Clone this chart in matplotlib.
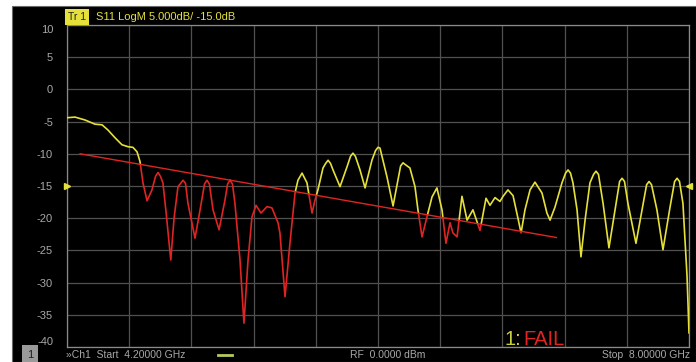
"""
S11 return-loss screen grab, redrawn: LogM trace with a sloped limit line.
Trace turns red where it sits under the limit line.
"""

import matplotlib
matplotlib.use("Agg")
import matplotlib.pyplot as plt
from matplotlib.patches import Polygon, Rectangle

# ---- data ----
freq_ghz = [4.200, 4.249, 4.310, 4.371, 4.414, 4.450, 4.493, 4.536, 4.573, 4.603,
            4.628, 4.646, 4.664, 4.689, 4.719, 4.741, 4.756, 4.771, 4.786, 4.805,
            4.834, 4.854, 4.878, 4.894, 4.909, 4.924, 4.939, 4.982, 5.013, 5.040,
            5.055, 5.070, 5.092, 5.129, 5.165, 5.181, 5.196, 5.211, 5.226, 5.257,
            5.281, 5.306, 5.330, 5.355, 5.385, 5.422, 5.452, 5.489, 5.501, 5.532,
            5.562, 5.593, 5.611, 5.636, 5.666, 5.697, 5.715, 5.733, 5.764, 5.780,
            5.795, 5.810, 5.825, 5.868, 5.911, 5.932, 5.947, 5.962, 5.990, 6.021,
            6.063, 6.085, 6.100, 6.112, 6.155, 6.192, 6.238, 6.253, 6.268, 6.295,
            6.326, 6.344, 6.369, 6.399, 6.430, 6.460, 6.491, 6.515, 6.540, 6.558,
            6.583, 6.613, 6.644, 6.680, 6.723, 6.760, 6.784, 6.815, 6.845, 6.864,
            6.894, 6.925, 6.955, 6.974, 6.998, 7.029, 7.059, 7.102, 7.132, 7.151,
            7.181, 7.224, 7.246, 7.261, 7.276, 7.291, 7.316, 7.340, 7.365, 7.395,
            7.417, 7.432, 7.447, 7.475, 7.511, 7.548, 7.576, 7.591, 7.606, 7.627,
            7.676, 7.713, 7.741, 7.756, 7.771, 7.804, 7.841, 7.884, 7.912, 7.927,
            7.942, 7.963, 7.988, 8.000]
s11_db = [-4.4, -4.3, -4.75, -5.4, -5.5, -6.3, -7.5, -8.6, -8.9, -9.0,
          -9.7, -11.2, -14.5, -17.3, -15.6, -13.5, -12.9, -13.5, -14.5, -19.0,
          -26.5, -20.0, -15.1, -14.6, -14.1, -14.6, -17.7, -23.1, -18.7, -14.7,
          -14.1, -14.7, -18.7, -21.8, -17.2, -14.7, -14.1, -14.7, -17.7, -26.5,
          -36.3, -26.5, -19.8, -18.0, -19.2, -18.2, -18.4, -20.7, -22.3, -32.2,
          -23.9, -16.1, -14.1, -13.0, -14.5, -19.2, -17.2, -15.6, -12.2, -11.5,
          -11.0, -11.5, -12.5, -15.1, -12.0, -10.4, -9.9, -10.4, -12.5, -15.3,
          -11.0, -9.5, -9.0, -9.1, -13.6, -18.1, -11.9, -11.4, -11.7, -12.2,
          -15.1, -18.7, -22.9, -19.8, -16.7, -15.3, -18.7, -23.9, -20.7, -22.3,
          -22.9, -16.6, -20.3, -18.7, -21.9, -16.9, -18.0, -16.8, -17.4, -16.6,
          -15.6, -16.5, -20.0, -22.3, -18.7, -15.6, -14.4, -16.1, -19.2, -20.3,
          -18.3, -14.5, -13.0, -12.5, -13.0, -14.5, -18.7, -26.0, -20.3, -14.5,
          -13.2, -12.7, -13.2, -17.7, -24.6, -18.7, -14.3, -13.8, -14.3, -17.7,
          -23.9, -18.7, -14.8, -14.3, -14.8, -18.7, -24.9, -18.3, -14.3, -13.8,
          -14.3, -17.7, -29.0, -37.8]

limit_ghz = [4.28, 7.19]
limit_db = [-10.0, -23.0]

ytick_vals = [10, 5, 0, -5, -10, -15, -20, -25, -30, -35, -40]
ref_level = -15.0

# ---- look ----
BG, GRID, FRAME = "#000000", "#505050", "#8a8a8a"
YEL, RED, MUT = "#e6e13a", "#e02424", "#a8a8a8"
FONT = "Liberation Sans"

W, H = 696, 362
fig = plt.figure(figsize=(W / 100, H / 100), dpi=100, facecolor="white")
fig.patches.append(Rectangle((12 / W, 0), 1 - 12 / W, 1 - 6 / H,
                             transform=fig.transFigure, facecolor=BG,
                             edgecolor="#6a6a6a", linewidth=0.8, zorder=-10))

ax = fig.add_axes([67 / W, 15 / H, (689 - 67) / W, (337 - 15) / H])
ax.set_zorder(1)
ax.set_facecolor(BG)
ax.set_xlim(4.2, 8.0)
ax.set_ylim(-40, 10)
for sp in ax.spines.values():
    sp.set_color(FRAME)
    sp.set_linewidth(0.9)

step = (8.0 - 4.2) / 10
ax.set_xticks([4.2 + i * step for i in range(11)])
ax.set_xticklabels([])
ax.set_yticks(ytick_vals)
ax.set_yticklabels([str(v) for v in ytick_vals], color=MUT, fontsize=8, family=FONT)
ax.tick_params(length=0, pad=10)
ax.grid(color=GRID, linewidth=0.9)
labels = ax.get_yticklabels()
labels[0].set_va("top")
labels[-1].set_va("bottom")

# trace: yellow above the limit line, red below it (split by clip paths)
x0, x1 = limit_ghz
y0, y1 = limit_db
under = Polygon([(x0, y0), (x1, y1), (x1, -60), (x0, -60)], closed=True,
                transform=ax.transData, facecolor="none", edgecolor="none")
over = Polygon([(3.0, 60), (3.0, -60), (x0, -60), (x0, y0), (x1, y1), (x1, -60),
                (9.0, -60), (9.0, 60)], closed=True,
               transform=ax.transData, facecolor="none", edgecolor="none")
ax.add_patch(under)
ax.add_patch(over)
yel_line, = ax.plot(freq_ghz, s11_db, color=YEL, linewidth=1.2, zorder=3)
yel_line.set_clip_path(over)
red_line, = ax.plot(freq_ghz, s11_db, color=RED, linewidth=1.2, zorder=4)
red_line.set_clip_path(under)
ax.plot(limit_ghz, limit_db, color=RED, linewidth=1.0, zorder=5)

# reference-level markers
ax.plot([4.2], [ref_level], marker=">", color=YEL, markersize=5, clip_on=False, zorder=6)
ax.plot([8.0], [ref_level], marker="<", color=YEL, markersize=5, clip_on=False, zorder=6)

# pass/fail readout
fig.text(504 / W, 1 - 345 / H, "1:", color="#c8d040", fontsize=14.5,
         family=FONT, ha="left", va="baseline")
fig.text(523 / W, 1 - 345 / H, "FAIL", color=RED, fontsize=14.5,
         family=FONT, ha="left", va="baseline")

# header
fig.text(68 / W, 1 - 17 / H, "Tr 1", color="#202020", fontsize=7.5, family=FONT,
         va="center", ha="left",
         bbox=dict(boxstyle="square,pad=0.25", facecolor=YEL, edgecolor="none"))
fig.text(96 / W, 1 - 17 / H, "S11 LogM 5.000dB/ -15.0dB", color=YEL, fontsize=8,
         family=FONT, va="center", ha="left")

# footer
fig.text(30 / W, 1 - 355 / H, "1", color="#202020", fontsize=8, family=FONT,
         va="center", ha="center",
         bbox=dict(boxstyle="square,pad=0.45", facecolor="#9a9a9a", edgecolor="none"))
fig.text(66 / W, 1 - 355 / H, "»Ch1  Start  4.20000 GHz", color=MUT, fontsize=7.5,
         family=FONT, va="center", ha="left")
fig.add_artist(plt.Line2D([218 / W, 232 / W], [1 - 355 / H] * 2, color="#b8c860",
                          linewidth=2, transform=fig.transFigure))
fig.text(350 / W, 1 - 355 / H, "RF  0.0000 dBm", color=MUT, fontsize=7.5,
         family=FONT, va="center", ha="left")
fig.text(690 / W, 1 - 355 / H, "Stop  8.00000 GHz", color=MUT, fontsize=7.5,
         family=FONT, va="center", ha="right")

fig.savefig("out.png", dpi=100, facecolor="white")
